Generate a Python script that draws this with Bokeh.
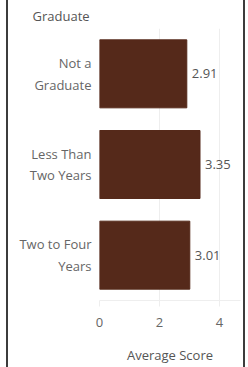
from bokeh.plotting import figure
from bokeh.models import ColumnDataSource, FactorRange, Range1d, FixedTicker, Div
from bokeh.layouts import row
from bokeh.embed import file_html
from bokeh.resources import INLINE
from bokeh.core.properties import value

# Data
categories = ["Not a\nGraduate", "Less Than\nTwo Years", "Two to Four\nYears"]
scores = [2.91, 3.35, 3.01]
score_labels = ["2.91", "3.35", "3.01"]
x_ticks = [0, 2, 4]
header = "Graduate"
x_title = "Average Score"

FONT = "Open Sans"
BAR = "#55291A"
TXT = "#666666"

src = ColumnDataSource(dict(cat=categories, score=scores, lab=score_labels))

p = figure(
    width=235, height=367,
    y_range=FactorRange(*reversed(categories), range_padding=0),
    x_range=Range1d(0, 4.7),
    output_backend="svg", toolbar_location=None,
    min_border_left=91, min_border_right=3, min_border_top=28, min_border_bottom=67,
    margin=(0, 0, 0, 0),
)
p.outline_line_color = None
p.background_fill_color = "white"

p.hbar(y="cat", right="score", height=0.75, source=src, color=BAR, line_color=BAR)
p.text(x="score", y="cat", text="lab", source=src, x_offset=5,
       text_align="left", text_baseline="middle",
       text_font=value(FONT), text_font_size="13px", text_color="#555555")

# header over the row labels
p.title.text = header
p.title.align = "left"
p.title.offset = -67
p.title.standoff = 7
p.title.text_font = FONT
p.title.text_font_size = "13px"
p.title.text_font_style = "normal"
p.title.text_color = "#555555"

# x axis
xa = p.xaxis[0]
xa.ticker = FixedTicker(ticks=x_ticks)
xa.axis_line_color = "#eeeeee"
xa.major_tick_line_color = "#eeeeee"
xa.major_tick_in = 0
xa.major_tick_out = 6
xa.minor_tick_line_color = None
xa.major_label_standoff = 11
xa.major_label_text_font = FONT
xa.major_label_text_font_size = "13px"
xa.major_label_text_color = TXT
xa.axis_label = x_title
xa.axis_label_text_font = FONT
xa.axis_label_text_font_size = "13px"
xa.axis_label_text_font_style = "normal"
xa.axis_label_text_color = "#555555"
xa.axis_label_standoff = 16

# y axis
ya = p.yaxis[0]
ya.axis_line_color = None
ya.major_tick_line_color = None
ya.minor_tick_line_color = None
ya.major_label_standoff = 2
ya.major_label_text_font = FONT
ya.major_label_text_font_size = "13px"
ya.major_label_text_color = TXT

p.xgrid.grid_line_color = "#eeeeee"
p.xgrid.ticker = FixedTicker(ticks=x_ticks)
p.ygrid.grid_line_color = None

left_border = Div(width=2, height=367, margin=(0, 0, 0, 6),
                  styles={"background-color": "#3c3c3c"})
right_border = Div(width=2, height=367, margin=(0, 0, 0, 0),
                   styles={"background-color": "#3c3c3c"})
layout = row(left_border, p, right_border, spacing=0)

open("out.html", "w").write(file_html(layout, INLINE))
